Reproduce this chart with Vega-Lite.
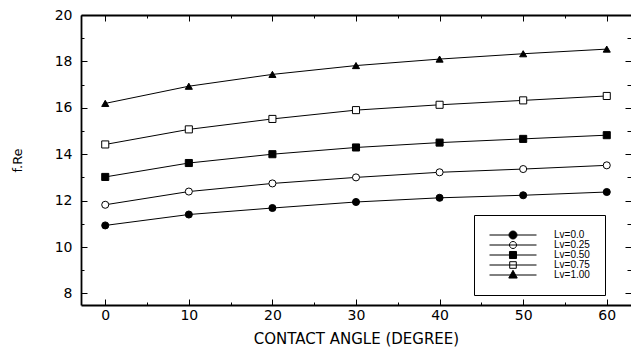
{
  "$schema": "https://vega.github.io/schema/vega-lite/v6.json",
  "autosize": {"type": "none"},
  "width": 550,
  "height": 290,
  "padding": {"left": 81, "top": 15, "right": 0, "bottom": 53},
  "background": "white",
  "config": {
    "view": {"stroke": null},
    "font": "DejaVu Sans",
    "axis": {"grid": false, "domainColor": "black", "tickColor": "black", "labelColor": "black", "titleColor": "black", "labelFont": "DejaVu Sans", "titleFont": "DejaVu Sans", "titleFontWeight": "normal"}
  },
  "data": {
    "values": [
      {"angle": 0, "fRe": 10.93, "series": "Lv=0.0"},
      {"angle": 10, "fRe": 11.4, "series": "Lv=0.0"},
      {"angle": 20, "fRe": 11.68, "series": "Lv=0.0"},
      {"angle": 30, "fRe": 11.94, "series": "Lv=0.0"},
      {"angle": 40, "fRe": 12.12, "series": "Lv=0.0"},
      {"angle": 50, "fRe": 12.23, "series": "Lv=0.0"},
      {"angle": 60, "fRe": 12.37, "series": "Lv=0.0"},
      {"angle": 0, "fRe": 11.82, "series": "Lv=0.25"},
      {"angle": 10, "fRe": 12.39, "series": "Lv=0.25"},
      {"angle": 20, "fRe": 12.74, "series": "Lv=0.25"},
      {"angle": 30, "fRe": 13.0, "series": "Lv=0.25"},
      {"angle": 40, "fRe": 13.22, "series": "Lv=0.25"},
      {"angle": 50, "fRe": 13.36, "series": "Lv=0.25"},
      {"angle": 60, "fRe": 13.52, "series": "Lv=0.25"},
      {"angle": 0, "fRe": 13.02, "series": "Lv=0.50"},
      {"angle": 10, "fRe": 13.62, "series": "Lv=0.50"},
      {"angle": 20, "fRe": 14.0, "series": "Lv=0.50"},
      {"angle": 30, "fRe": 14.29, "series": "Lv=0.50"},
      {"angle": 40, "fRe": 14.5, "series": "Lv=0.50"},
      {"angle": 50, "fRe": 14.66, "series": "Lv=0.50"},
      {"angle": 60, "fRe": 14.82, "series": "Lv=0.50"},
      {"angle": 0, "fRe": 14.42, "series": "Lv=0.75"},
      {"angle": 10, "fRe": 15.07, "series": "Lv=0.75"},
      {"angle": 20, "fRe": 15.52, "series": "Lv=0.75"},
      {"angle": 30, "fRe": 15.9, "series": "Lv=0.75"},
      {"angle": 40, "fRe": 16.13, "series": "Lv=0.75"},
      {"angle": 50, "fRe": 16.32, "series": "Lv=0.75"},
      {"angle": 60, "fRe": 16.51, "series": "Lv=0.75"},
      {"angle": 0, "fRe": 16.19, "series": "Lv=1.00"},
      {"angle": 10, "fRe": 16.93, "series": "Lv=1.00"},
      {"angle": 20, "fRe": 17.44, "series": "Lv=1.00"},
      {"angle": 30, "fRe": 17.82, "series": "Lv=1.00"},
      {"angle": 40, "fRe": 18.1, "series": "Lv=1.00"},
      {"angle": 50, "fRe": 18.33, "series": "Lv=1.00"},
      {"angle": 60, "fRe": 18.53, "series": "Lv=1.00"}
    ]
  },
  "layer": [
    {
      "mark": {"type": "line", "color": "black", "strokeWidth": 1},
      "encoding": {
        "x": {
          "field": "angle", "type": "quantitative",
          "scale": {"domain": [-2.9, 62.9], "nice": false, "zero": false},
          "axis": {
            "orient": "bottom",
            "values": [0, 5, 10, 15, 20, 25, 30, 35, 40, 45, 50, 55, 60],
            "labelExpr": "datum.value % 10 === 0 ? datum.label : ''",
            "tickSize": {"condition": {"test": "datum.value % 10 === 0", "value": -6}, "value": -3},
            "tickWidth": 1,
            "domainWidth": 1.8,
            "labelFontSize": 14,
            "labelPadding": 9,
            "title": "CONTACT ANGLE (DEGREE)",
            "titleFontSize": 15,
            "titlePadding": 9
          }
        },
        "y": {
          "field": "fRe", "type": "quantitative",
          "scale": {"domain": [7.5, 20], "nice": false, "zero": false},
          "axis": {
            "orient": "left",
            "values": [8, 9, 10, 11, 12, 13, 14, 15, 16, 17, 18, 19, 20],
            "labelExpr": "datum.value % 2 === 0 ? datum.label : ''",
            "tickSize": {"condition": {"test": "datum.value % 2 === 0", "value": -6}, "value": -3},
            "tickWidth": 1,
            "domainWidth": 1.8,
            "labelFontSize": 14,
            "labelPadding": 15,
            "title": "f.Re",
            "titleFontSize": 13,
            "titleX": -57,
            "titleY": 145,
            "titleAngle": -90
          }
        },
        "detail": {"field": "series"}
      }
    },
    {
      "mark": {"type": "point", "filled": true, "stroke": "black", "strokeWidth": 1, "size": 50, "opacity": 1},
      "encoding": {
        "x": {
          "field": "angle", "type": "quantitative",
          "axis": {
            "orient": "top",
            "values": [0, 5, 10, 15, 20, 25, 30, 35, 40, 45, 50, 55, 60],
            "labels": false,
            "title": null,
            "tickSize": {"condition": {"test": "datum.value % 10 === 0", "value": -6}, "value": -3},
            "domainWidth": 1.8
          }
        },
        "y": {
          "field": "fRe", "type": "quantitative",
          "axis": {
            "orient": "right",
            "values": [8, 9, 10, 11, 12, 13, 14, 15, 16, 17, 18, 19, 20],
            "labels": false,
            "title": null,
            "domain": false,
            "tickSize": {"condition": {"test": "datum.value % 2 === 0", "value": -6}, "value": -4}
          }
        },
        "shape": {
          "field": "series", "type": "nominal",
          "scale": {"domain": ["Lv=0.0", "Lv=0.25", "Lv=0.50", "Lv=0.75", "Lv=1.00"], "range": ["circle", "circle", "square", "square", "triangle-up"]},
          "legend": null
        },
        "fill": {
          "field": "series", "type": "nominal",
          "scale": {"domain": ["Lv=0.0", "Lv=0.25", "Lv=0.50", "Lv=0.75", "Lv=1.00"], "range": ["black", "white", "black", "white", "black"]},
          "legend": null
        }
      }
    },
    {
      "transform": [{"filter": "false"}],
      "mark": {"type": "point", "filled": false, "strokeWidth": 1, "opacity": 1},
      "encoding": {
        "stroke": {
          "field": "series", "type": "nominal",
          "scale": {"domain": ["Lv=0.0", "Lv=0.25", "Lv=0.50", "Lv=0.75", "Lv=1.00"], "range": ["black", "black", "black", "black", "black"]}
        },
        "shape": {
          "field": "series", "type": "nominal",
          "scale": {"domain": ["Lv=0.0", "Lv=0.25", "Lv=0.50", "Lv=0.75", "Lv=1.00"],
            "range": [
              "M-1,0L1,0M-0.17,0A0.17,0.17 0 1,0 0.17,0A0.17,0.17 0 1,0 -0.17,0Z",
              "M-1,0L1,0M-0.15,0A0.15,0.15 0 1,0 0.15,0A0.15,0.15 0 1,0 -0.15,0Z",
              "M-1,0L1,0M-0.15,-0.15L0.15,-0.15L0.15,0.15L-0.15,0.15Z",
              "M-1,0L1,0M-0.14,-0.14L0.14,-0.14L0.14,0.14L-0.14,0.14Z",
              "M-1,0L1,0M0,-0.2L0.18,0.13L-0.18,0.13Z"
            ]},
          "legend": {
            "orient": "none",
            "legendX": 393,
            "legendY": 200,
            "title": null,
            "symbolSize": 2209,
            "symbolStrokeWidth": 1,
            "clipHeight": 10,
            "rowPadding": 0,
            "labelOffset": 17,
            "labelFontSize": 10,
            "labelFont": "Liberation Sans",
            "labelColor": "black",
            "padding": 15,
            "strokeColor": "black",
            "fillColor": "white"
          }
        },
        "fill": {
          "field": "series", "type": "nominal",
          "scale": {"domain": ["Lv=0.0", "Lv=0.25", "Lv=0.50", "Lv=0.75", "Lv=1.00"], "range": ["black", "white", "black", "white", "black"]}
        }
      }
    }
  ],
  "resolve": {
    "axis": {"x": "independent", "y": "independent"},
    "scale": {"shape": "independent", "fill": "independent", "stroke": "independent"}
  }
}
